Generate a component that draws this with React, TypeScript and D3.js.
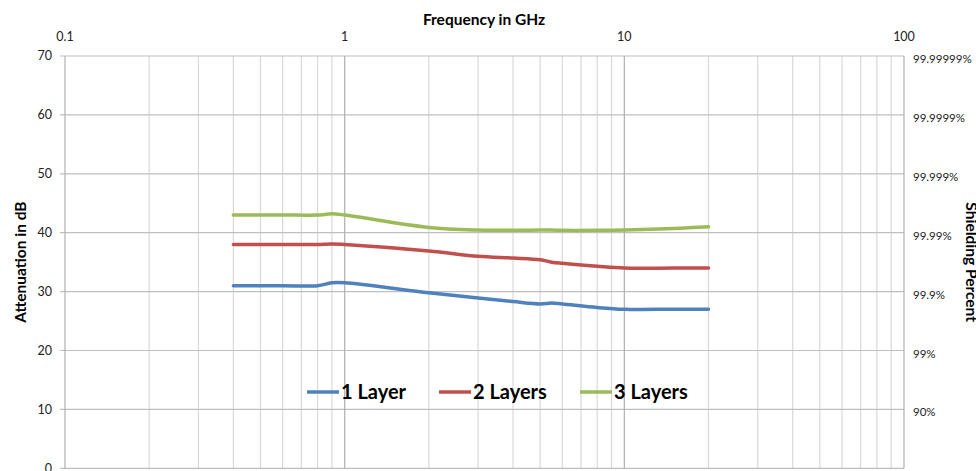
import React, { useEffect, useRef } from 'react';
import * as d3 from 'd3';

// frequency points in GHz
const frequencies = [0.4, 0.6, 0.8, 0.9, 1, 2, 3, 4, 5, 5.5, 6, 8, 10, 15, 20];
const oneLayer = [31, 31, 31, 31.5, 31.5, 29.8, 28.9, 28.3, 27.9, 28.05, 27.9, 27.3, 27.0, 27.0, 27.0];
const twoLayers = [38, 38, 38, 38.1, 38.0, 36.9, 36.0, 35.7, 35.4, 35.0, 34.8, 34.3, 34.0, 34.0, 34.0];
const threeLayers = [43, 43, 43, 43.2, 43.0, 40.9, 40.45, 40.4, 40.45, 40.45, 40.4, 40.4, 40.45, 40.7, 41.0];

const seriesNames = ['1 Layer', '2 Layers', '3 Layers'];
const seriesColors = ['#4F81BD', '#C0504D', '#9BBB59'];

const yTicks = [0, 10, 20, 30, 40, 50, 60, 70];
const shieldLabels = ['', '90%', '99%', '99.9%', '99.99%', '99.999%', '99.9999%', '99.99999%'];
const xDecades = [0.1, 1, 10, 100];

const W = 976;
const H = 471;
const FONT = 'Lato, "Open Sans", sans-serif';

const App: React.FC = () => {
  const svgRef = useRef<SVGSVGElement>(null);

  useEffect(() => {
    if (!svgRef.current) return;
    const svg = d3.select(svgRef.current);
    svg.selectAll('*').remove();

    const left = 65, right = 904, top = 56, bottom = 468.3;

    const x = d3.scaleLog().domain([0.1, 100]).range([left, right]);
    const y = d3.scaleLinear().domain([0, 70]).range([bottom, top]);

    svg.append('rect').attr('width', W).attr('height', H).attr('fill', '#fff');

    // minor vertical grid
    const minor: number[] = [];
    xDecades.slice(0, -1).forEach(d => {
      for (let k = 2; k <= 9; k++) minor.push(d * k);
    });
    svg.append('g').selectAll('line')
      .data(minor)
      .enter().append('line')
      .attr('x1', d => x(d)).attr('x2', d => x(d))
      .attr('y1', top).attr('y2', bottom)
      .attr('stroke', '#D9D9D9').attr('stroke-width', 1.2);

    // horizontal grid
    svg.append('g').selectAll('line')
      .data(yTicks)
      .enter().append('line')
      .attr('x1', left - 5).attr('x2', right)
      .attr('y1', d => y(d)).attr('y2', d => y(d))
      .attr('stroke', '#BFBFBF').attr('stroke-width', 1.2);

    // decade lines
    svg.append('g').selectAll('line')
      .data(xDecades)
      .enter().append('line')
      .attr('x1', d => x(d)).attr('x2', d => x(d))
      .attr('y1', top).attr('y2', bottom)
      .attr('stroke', '#B0B0B0').attr('stroke-width', 1.2);

    // top tick labels
    svg.append('g').selectAll('text')
      .data(xDecades)
      .enter().append('text')
      .attr('x', d => x(d)).attr('y', 41)
      .attr('text-anchor', 'middle')
      .style('font', `12.5px ${FONT}`).attr('fill', '#222')
      .text(d => String(d));

    // left tick labels
    svg.append('g').selectAll('text')
      .data(yTicks)
      .enter().append('text')
      .attr('x', 52).attr('y', d => y(d)).attr('dy', '0.35em')
      .attr('text-anchor', 'end')
      .style('font', `12.5px ${FONT}`).attr('fill', '#222')
      .text(d => String(d));

    // right shielding labels
    svg.append('g').selectAll('text')
      .data(yTicks)
      .enter().append('text')
      .attr('x', 913).attr('y', d => y(d) + 3).attr('dy', '0.35em')
      .style('font', `11.5px ${FONT}`).attr('fill', '#222')
      .text((d, i) => shieldLabels[i]);

    // titles
    svg.append('text')
      .attr('x', 484).attr('y', 25)
      .attr('text-anchor', 'middle')
      .style('font', `bold 15.5px ${FONT}`).attr('fill', '#000')
      .text('Frequency in GHz');

    svg.append('text')
      .attr('transform', `translate(26, ${(top + bottom) / 2}) rotate(-90)`)
      .attr('text-anchor', 'middle')
      .style('font', `bold 15.5px ${FONT}`).attr('fill', '#000')
      .text('Attenuation in dB');

    svg.append('text')
      .attr('transform', `translate(966, ${(top + bottom) / 2}) rotate(90)`)
      .attr('text-anchor', 'middle')
      .style('font', `bold 15.5px ${FONT}`).attr('fill', '#000')
      .text('Shielding Percent');

    // series
    const allSeries = [oneLayer, twoLayers, threeLayers];
    const line = d3.line<[number, number]>()
      .x(d => x(d[0]))
      .y(d => y(d[1]))
      .curve(d3.curveCatmullRom.alpha(0.5));

    allSeries.forEach((vals, i) => {
      svg.append('path')
        .datum(frequencies.map((f, j) => [f, vals[j]] as [number, number]))
        .attr('d', line)
        .attr('fill', 'none')
        .attr('stroke', seriesColors[i])
        .attr('stroke-width', 3.5)
        .attr('stroke-linecap', 'round');
    });

    // legend
    const legendX = [307, 439, 580];
    const legendY = 392;
    const legend = svg.append('g');
    seriesNames.forEach((name, i) => {
      legend.append('line')
        .attr('x1', legendX[i]).attr('x2', legendX[i] + 32)
        .attr('y1', legendY).attr('y2', legendY)
        .attr('stroke', seriesColors[i]).attr('stroke-width', 3.5);
      legend.append('text')
        .attr('x', legendX[i] + 34).attr('y', legendY).attr('dy', '0.35em')
        .style('font', `bold 20px ${FONT}`).attr('fill', '#000')
        .text(name);
    });
  }, []);

  return (
    <svg
      ref={svgRef}
      width={W}
      height={H}
      style={{ position: 'absolute', left: 0, top: 0, display: 'block' }}
    />
  );
};

export default App;
